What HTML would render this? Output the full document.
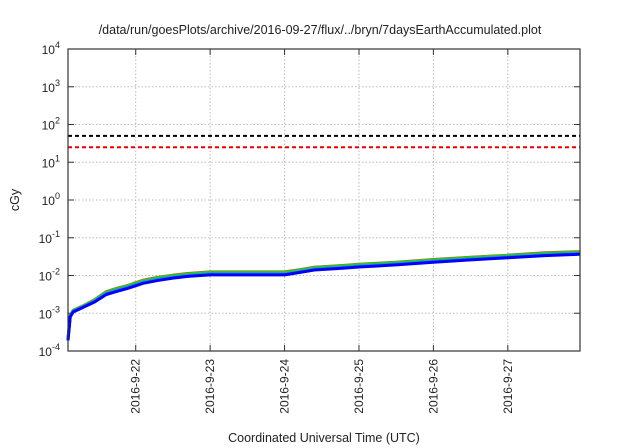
<!DOCTYPE html>
<html><head><meta charset="utf-8"><style>
body{margin:0;background:#fff}
svg{display:block;font-family:"Liberation Sans",sans-serif}
</style></head><body>
<svg id="c" width="640" height="448"></svg>
<script>
const tickDays=[22,23,24,25,26,27];
const tickLabels=["2016-9-22","2016-9-23","2016-9-24","2016-9-25","2016-9-26","2016-9-27"];
const yExps=[-4,-3,-2,-1,0,1,2,3,4];
const thresholds=[50,25];
const thresholdColors=["#000","#e00"];
const days=[21.09,21.12,21.16,21.3,21.45,21.6,21.75,21.9,22.1,22.3,22.5,22.7,23.0,23.5,24.0,24.2,24.4,24.8,25.0,25.5,26.0,26.5,27.0,27.5,27.97];
const red=[0.00022,0.0009,0.0012,0.0016,0.0023,0.0037,0.0046,0.0055,0.0075,0.009,0.0102,0.0113,0.0125,0.0125,0.0125,0.0142,0.0165,0.0185,0.0198,0.0225,0.0265,0.0305,0.0345,0.04,0.043];
const green=[0.00021,0.00088,0.00118,0.00158,0.00225,0.0036,0.0045,0.0054,0.0073,0.0088,0.01,0.011,0.0122,0.0122,0.0122,0.0139,0.0162,0.0182,0.0195,0.0221,0.026,0.03,0.034,0.039,0.042];
const cyan=[0.0002,0.00083,0.00112,0.0015,0.0021,0.0033,0.0041,0.0049,0.0066,0.0079,0.009,0.01,0.011,0.011,0.011,0.0126,0.0146,0.0165,0.0177,0.0201,0.0237,0.0272,0.031,0.0355,0.0385];
const blue=[0.00019,0.0008,0.00108,0.00145,0.002,0.0031,0.0038,0.0046,0.0062,0.0074,0.0085,0.0095,0.0104,0.0104,0.0104,0.012,0.014,0.0157,0.0168,0.0191,0.0225,0.026,0.0295,0.0335,0.0365];
const L=68,R=580,T=49,B=351,D0=21.09,D1=27.97;
const X=d=>L+(d-D0)/(D1-D0)*(R-L);
const Y=v=>B-(Math.log10(v)+4)/8*(B-T);
const s=document.getElementById('c');const NS="http://www.w3.org/2000/svg";
function el(t,a,p){const e=document.createElementNS(NS,t);for(const k in a)e.setAttribute(k,a[k]);(p||s).appendChild(e);return e;}
let e=el('text',{x:320,y:34,'text-anchor':'middle','font-size':12.5,fill:'#222'});e.textContent="/data/run/goesPlots/archive/2016-09-27/flux/../bryn/7daysEarthAccumulated.plot";


yExps.forEach(p=>{const y=Y(Math.pow(10,p));
 if(p>-4&&p<4){const g=el('line',{x1:L,x2:R,y1:y,y2:y,stroke:'#bbb','stroke-dasharray':'1.5,2'});
 
 }
 el('line',{x1:L,x2:L+6,y1:y,y2:y,stroke:'#333'});el('line',{x1:R,x2:R-6,y1:y,y2:y,stroke:'#333'});
 const t=el('text',{x:60,y:y+5,'text-anchor':'end','font-size':12,fill:'#222'});t.textContent='10';
 const sp=el('tspan',{dy:-6,'font-size':9},t);sp.textContent=String(p);
 
 });
tickDays.forEach((d,i)=>{const x=X(d);
 const g=el('line',{x1:x,x2:x,y1:T,y2:B,stroke:'#bbb','stroke-dasharray':'1.5,2'});
 
 
 el('line',{x1:x,x2:x,y1:B,y2:B-6,stroke:'#333'});el('line',{x1:x,x2:x,y1:T,y2:T+6,stroke:'#333'});
 const t=el('text',{x:0,y:0,'text-anchor':'end','font-size':12,fill:'#222',transform:`translate(${x+4},${B+8}) rotate(-90)`});t.textContent=tickLabels[i];
 
 });
thresholds.forEach((v,i)=>{const l=el('line',{x1:L,x2:R,y1:Y(v),y2:Y(v),stroke:thresholdColors[i],'stroke-width':2,'stroke-dasharray':'4,3'});
 
 });
[[red,'#e33',3],[green,'#2c2',3],[cyan,'#28e',3],[blue,'#00f',3]].forEach(([arr,c,w])=>{
 const p=el('polyline',{points:arr.map((v,i)=>X(days[i])+','+Y(v)).join(' '),fill:'none',stroke:c,'stroke-width':w,'stroke-linejoin':'round'});
 
 });
const f=el('rect',{x:L,y:T,width:R-L,height:B-T,fill:'none',stroke:'#333','stroke-width':1.2});


e=el('text',{x:0,y:0,'text-anchor':'middle','font-size':12.5,fill:'#222',transform:'translate(19,200) rotate(-90)'});e.textContent='cGy';


e=el('text',{x:324,y:442,'text-anchor':'middle','font-size':12.5,fill:'#222'});e.textContent='Coordinated Universal Time (UTC)';


</script></body></html>
